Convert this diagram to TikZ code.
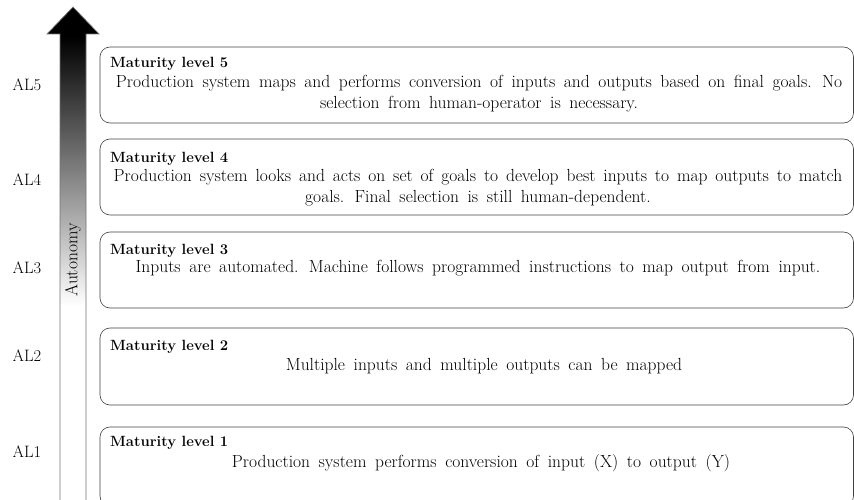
\documentclass[tikz,border=0pt]{standalone}
\usetikzlibrary{positioning}

% vertical fade for the autonomy arrow: white at the foot, black under the head
\pgfdeclareverticalshading{autonomyfade}{100bp}{%
  color(0bp)=(white); color(45bp)=(white);
  color(72bp)=(black); color(100bp)=(black)}

% body text: roman with generous word spacing
\newcommand\bodyfont{\fontsize{17.5}{21}\selectfont}
\newcommand\widewords{\spaceskip=0.49em plus 0.1em\relax}
\newcommand\tighterwords{\spaceskip=0.45em plus 0.1em\relax}

\tikzset{
  levelbox/.style={draw=black!75, line width=0.6pt, rounded corners=10pt},
  levelhead/.style={anchor=base west, inner sep=0pt,
    font=\fontsize{14.8}{17}\selectfont\bfseries},
  leveltext/.style={anchor=base, inner sep=0pt, align=center, font=\bodyfont},
  allabel/.style={inner sep=0pt, font=\fontsize{16.5}{20}\selectfont},
}

\begin{document}
\begin{tikzpicture}[x=1pt, y=-1pt]
  \useasboundingbox (0,0) rectangle (854,500);

  % autonomy arrow
  \path[shading=autonomyfade, draw=black!55, line width=0.7pt]
    (73,7) -- (99,34) -- (86,34) -- (86,505) -- (60,505) -- (60,34) -- (47,34) -- cycle;
  \node[rotate=90, inner sep=0pt, font=\fontsize{17.5}{20}\selectfont, text=black]
    (autonomy) at (73,260) {Autonomy};

  % autonomy levels
  \node[allabel] (al5) at (27,85)  {AL5};
  \node[allabel] (al4) at (27,180) {AL4};
  \node[allabel] (al3) at (27,268) {AL3};
  \node[allabel] (al2) at (27,356) {AL2};
  \node[allabel] (al1) at (27,452) {AL1};

  % maturity level boxes
  \draw[levelbox] (100,47)  rectangle (853.5,123);
  \draw[levelbox] (100,139) rectangle (853.5,215);
  \draw[levelbox] (100,232) rectangle (853.5,308);
  \draw[levelbox] (100,328) rectangle (853.5,405);
  \draw[levelbox] (100,427) rectangle (853.5,506);

  % two-line texts are placed by the baseline of their last line
  \node[levelhead] (h5) at (110,68)  {Maturity level 5};
  \node[leveltext] (t5) at (479,109) {\widewords Production system maps and performs conversion of inputs and outputs based on final goals. No\\\widewords selection from human-operator is necessary.};

  \node[levelhead] (h4) at (110,162) {Maturity level 4};
  \node[leveltext] (t4) at (478,202) {\tighterwords Production system looks and acts on set of goals to develop best inputs to map outputs to match\\\widewords goals. Final selection is still human-dependent.};

  \node[levelhead] (h3) at (110,254) {Maturity level 3};
  \node[leveltext] (t3) at (478,272) {\widewords Inputs are automated. Machine follows programmed instructions to map output from input.};

  \node[levelhead] (h2) at (110,350) {Maturity level 2};
  \node[leveltext] (t2) at (484,370) {\widewords Multiple inputs and multiple outputs can be mapped};

  \node[levelhead] (h1) at (110,446) {Maturity level 1};
  \node[leveltext] (t1) at (481,467) {\widewords Production system performs conversion of input (X) to output (Y)};
\end{tikzpicture}
\end{document}
